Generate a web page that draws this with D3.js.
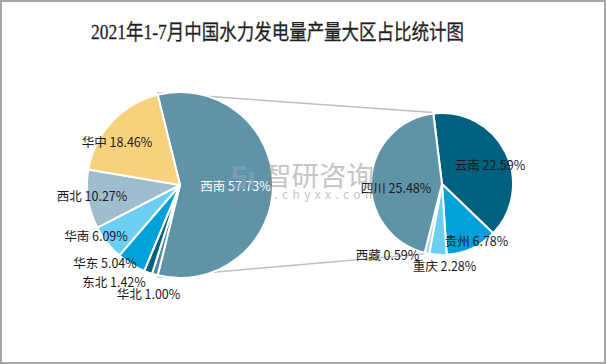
<!DOCTYPE html>
<html>
<head>
<meta charset="utf-8">
<script src="https://cdn.jsdelivr.net/npm/d3@7/dist/d3.min.js"></script>
<style>
html,body{margin:0;padding:0;background:#fff;}
svg{display:block;}
text{font-family:"Noto Sans CJK SC","Noto Sans",sans-serif;}
</style>
</head>
<body>
<svg id="chart" width="606" height="364"></svg>
<script>
// ---- data ----
const title = "2021年1-7月中国水力发电量产量大区占比统计图";
const leftNames  = ["西南","华北","东北","华东","华南","西北","华中"];
const leftValues = [57.73, 1.00, 1.42, 5.04, 6.09, 10.27, 18.46];
const rightNames  = ["云南","贵州","重庆","西藏","四川"];
const rightValues = [22.59, 6.78, 2.28, 0.59, 25.48];

// ---- styles / layout ----
const leftColors  = ["#5F93A8","#4F8AA2","#00617F","#00A0D8","#6CCEF3","#9FBDCC","#F5D27B"];
const rightColors = ["#00607F","#00A0D8","#6CCEF3","#A9D6DA","#5F93A8"];
const leftLabelOffsets = { // relative to pie centre
  "西南":[55.5,0],"华北":[-31.5,108],"东北":[-66,96],"华东":[-75,77],
  "华南":[-84,50.5],"西北":[-88,10.5],"华中":[-63,-44]};
const rightLabelOffsets = {
  "云南":[48,-20],"四川":[-46,3],"贵州":[34.5,56],"西藏":[-54.5,70.5],"重庆":[2.5,81.5]};

const svg = d3.select("#chart");
const W = 606, H = 364;
const deg = Math.PI/180;

svg.append("rect").attr("x",1).attr("y",1).attr("width",W-2).attr("height",H-2)
  .attr("fill","#fff").attr("stroke","#A6A6A6").attr("stroke-width",2);

svg.append("text").attr("x",277.5).attr("y",39)
  .attr("text-anchor","middle")
  .attr("textLength",373).attr("lengthAdjust","spacingAndGlyphs")
  .style("font-family","'Liberation Serif','Noto Sans CJK SC',serif")
  .style("font-size","21px").style("font-weight","normal").attr("fill","#1f1f1f")
  .attr("stroke","#1f1f1f").attr("stroke-width",0.3)
  .text(title);

// left pie
const L = {cx:180, cy:185, r:93};
const leftTotal = d3.sum(leftValues);
const leftStart = 90*deg - (leftValues[0]/leftTotal)*Math.PI;
const leftPie = d3.pie().sort(null).startAngle(leftStart).endAngle(leftStart+2*Math.PI)(leftValues);
const leftArc = d3.arc().innerRadius(0).outerRadius(L.r);

// right pie
const R = {cx:442, cy:184, r:71};
const rightStart = -7*deg;
const rightPie = d3.pie().sort(null).startAngle(rightStart).endAngle(rightStart+2*Math.PI)(rightValues);
const rightArc = d3.arc().innerRadius(0).outerRadius(R.r);

// connector lines
const pol = (c, r, a) => [c.cx + r*Math.sin(a), c.cy - r*Math.cos(a)];
const lTop = pol(L, L.r+2, leftPie[0].startAngle);
const lBot = pol(L, L.r+2, leftPie[0].endAngle);
const rTop = pol(R, R.r+1, rightPie[0].startAngle);
const rBot = pol(R, R.r+1, rightPie[3].endAngle);
svg.append("line").attr("x1",lTop[0]).attr("y1",lTop[1]).attr("x2",rTop[0]).attr("y2",rTop[1])
  .attr("stroke","#BFBFBF").attr("stroke-width",1.5);
svg.append("line").attr("x1",lBot[0]).attr("y1",lBot[1]).attr("x2",rBot[0]).attr("y2",rBot[1])
  .attr("stroke","#BFBFBF").attr("stroke-width",1.5);

const gL = svg.append("g").attr("transform",`translate(${L.cx},${L.cy})`);
gL.selectAll("path").data(leftPie).join("path")
  .attr("d",leftArc).attr("fill",(d,i)=>leftColors[i])
  .attr("stroke","#fff").attr("stroke-width",2).attr("stroke-linejoin","round");

const gR = svg.append("g").attr("transform",`translate(${R.cx},${R.cy})`);
gR.selectAll("path").data(rightPie).join("path")
  .attr("d",rightArc).attr("fill",(d,i)=>rightColors[i])
  .attr("stroke","#fff").attr("stroke-width",2).attr("stroke-linejoin","round");

// watermark
const wm = svg.append("g").attr("opacity",0.5);
wm.append("path").attr("d","M233,166 h13 v4 h-9 v5 h9 v14 h-13 v-4 h9 v-6 h-9 z").attr("fill","#8FA6C4");
wm.append("rect").attr("x",249).attr("y",166).attr("width",5).attr("height",4).attr("fill","#5B9BD5");
wm.append("rect").attr("x",249).attr("y",172).attr("width",5).attr("height",17).attr("fill","#8FA6C4");
wm.append("text").attr("x",264).attr("y",186).style("font-size","27px").attr("fill","#8C8C8C")
  .attr("textLength",110).attr("lengthAdjust","spacingAndGlyphs").text("智研咨询");
wm.append("text").attr("x",233).attr("y",199).style("font-size","12px").attr("fill","#8C8C8C")
  .attr("textLength",143).attr("lengthAdjust","spacing").text("www.chyxx.com");

// labels
const fmt = v => v.toFixed(2) + "%";
gL.selectAll("text.lbl").data(leftPie).join("text").attr("class","lbl")
  .attr("x",(d,i)=>leftLabelOffsets[leftNames[i]][0])
  .attr("y",(d,i)=>leftLabelOffsets[leftNames[i]][1])
  .attr("text-anchor","middle").attr("dominant-baseline","central")
  .style("font-size","12.5px")
  .attr("fill",(d,i)=> i===0 ? "#fff" : "#1a1a1a")
  .text((d,i)=>leftNames[i] + " " + fmt(leftValues[i]));

gR.selectAll("text.lbl").data(rightPie).join("text").attr("class","lbl")
  .attr("x",(d,i)=>rightLabelOffsets[rightNames[i]][0])
  .attr("y",(d,i)=>rightLabelOffsets[rightNames[i]][1])
  .attr("text-anchor","middle").attr("dominant-baseline","central")
  .style("font-size","12.5px").attr("fill","#1a1a1a")
  .text((d,i)=>rightNames[i] + " " + fmt(rightValues[i]));
</script>
</body>
</html>
